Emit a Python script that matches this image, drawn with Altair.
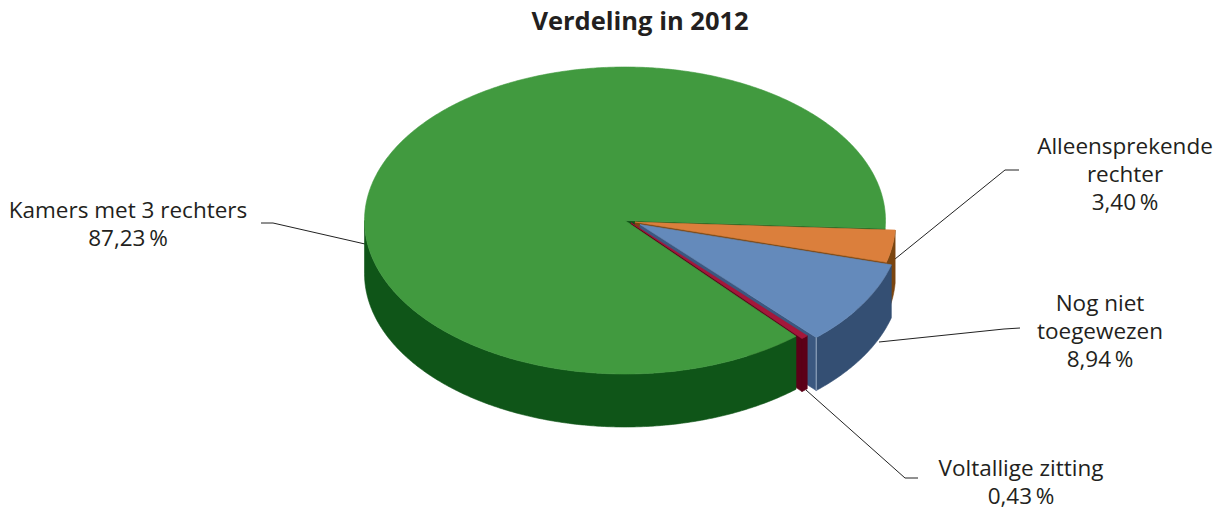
import math
import altair as alt
import pandas as pd

# Share of cases per composition, 2012 (percent)
categories = ["Alleensprekende rechter", "Nog niet toegewezen", "Voltallige zitting", "Kamers met 3 rechters"]
shares = [3.40, 8.94, 0.43, 87.23]

WIDTH, HEIGHT = 1223, 509
RX, RY, DEPTH = 260.5, 153.5, 53
START = 3.0  # degrees below the horizontal where the first slice begins

# Centre of each slice's top face (slices are pulled out slightly)
centres = {
    "Alleensprekende rechter": (635.0, 222.0),
    "Nog niet toegewezen": (640.0, 224.5),
    "Voltallige zitting": (631.0, 222.8),
    "Kamers met 3 rechters": (625.0, 220.5),
}
top_colours = {
    "Alleensprekende rechter": "#db7f3c",
    "Nog niet toegewezen": "#648abb",
    "Voltallige zitting": "#a5173a",
    "Kamers met 3 rechters": "#419a3f",
}
rim_colours = {
    "Alleensprekende rechter": "#7a4510",
    "Nog niet toegewezen": "#344f73",
    "Voltallige zitting": "#5c0018",
    "Kamers met 3 rechters": "#0f5518",
}
wall_colours = {
    "Alleensprekende rechter": "#7a4510",
    "Nog niet toegewezen": "#3b5880",
    "Voltallige zitting": "#5c0018",
    "Kamers met 3 rechters": "#0f5518",
}

x_scale = alt.Scale(domain=[0, WIDTH], range=[0, WIDTH], nice=False, zero=False)
y_scale = alt.Scale(domain=[0, HEIGHT], range=[0, HEIGHT], nice=False, zero=False)

# Angular extent of every slice, derived from its share
spans = {}
angle = START
for name, share in zip(categories, shares):
    spans[name] = (angle, angle + share * 3.6)
    angle += share * 3.6


def rim_point(name, t, drop=0.0):
    cx, cy = centres[name]
    r = math.radians(t)
    return (cx + RX * math.cos(r), cy + RY * math.sin(r) + drop)


def arc(name, t0, t1, drop=0.0):
    n = max(2, int(abs(t1 - t0) * 2))
    return [rim_point(name, t0 + (t1 - t0) * k / n, drop) for k in range(n + 1)]


def polygon(points, colour, stroke=None, width=0.6):
    frame = pd.DataFrame(points, columns=["x", "y"])
    frame["i"] = range(len(frame))
    return alt.Chart(frame).mark_line(
        fill=colour, stroke=stroke or colour, strokeWidth=width, interpolate="linear-closed"
    ).encode(
        x=alt.X("x:Q", scale=x_scale, axis=None),
        y=alt.Y("y:Q", scale=y_scale, axis=None),
        order="i:Q",
    )


def top_face(name):
    t0, t1 = spans[name]
    return polygon([centres[name]] + arc(name, t0, t1), top_colours[name])


def side_wall(name, t):
    cx, cy = centres[name]
    p = rim_point(name, t)
    return polygon([(cx, cy), p, (p[0], p[1] + DEPTH), (cx, cy + DEPTH)], wall_colours[name])


def rim_face(name, t0, t1):
    return polygon(arc(name, t0, t1) + arc(name, t1, t0, DEPTH), rim_colours[name])


orange, blue, red, green = categories

layers = [
    side_wall(green, spans[orange][0]),
    # Orange slice
    side_wall(orange, spans[orange][1]),
    rim_face(orange, *spans[orange]),
    top_face(orange),
    # Blue slice
    side_wall(blue, spans[blue][1]),
    rim_face(blue, *spans[blue]),
    top_face(blue),
    # Red slice
    side_wall(red, spans[red][1]),
    rim_face(red, *spans[red]),
    top_face(red),
    # Main slice: only the front half of its rim can be seen
    rim_face(green, spans[green][0], 180),
    top_face(green),
]

# Pale highlight on the front corner of the blue slice
corner = rim_point(blue, spans[blue][1])
layers.append(polygon([corner, (corner[0], corner[1] + DEPTH)], "#8fa3bd", "#8fa3bd", 0.8))

# Leader lines from labels to slices
leaders = [
    ("Kamers", [(261, 223), (273, 223), (365, 244)]),
    ("Alleen", [(1019, 170), (1005, 170), (895, 259)]),
    ("Nog", [(1020, 328), (1004, 329), (879, 342)]),
    ("Vol", [(918, 478), (905, 478), (806, 390)]),
]
rows = []
for key, pts in leaders:
    for i, (x, y) in enumerate(pts):
        rows.append({"key": key, "i": i, "x": x, "y": y})
layers.insert(0, alt.Chart(pd.DataFrame(rows)).mark_line(color="#222222", strokeWidth=1).encode(
    x=alt.X("x:Q", scale=x_scale, axis=None),
    y=alt.Y("y:Q", scale=y_scale, axis=None),
    order="i:Q",
    detail="key:N",
))


def pct(share):
    return f"{share:.2f}".replace(".", ",") + "\u2009%"


# One multi-line label per slice, placed at the first line's baseline
label_rows = [
    (f"Kamers met 3 rechters\n{pct(shares[3])}", 128, 218),
    (f"Alleensprekende\nrechter\n{pct(shares[0])}", 1125, 154),
    (f"Nog niet\ntoegewezen\n{pct(shares[1])}", 1100, 311),
    (f"Voltallige zitting\n{pct(shares[2])}", 1021, 476),
]
labels = pd.DataFrame(label_rows, columns=["text", "x", "y"])
layers.append(alt.Chart(labels).mark_text(
    font="Open Sans", fontSize=22.5, color="#231f20", align="center", baseline="alphabetic",
    lineBreak="\n", lineHeight=28,
).encode(
    x=alt.X("x:Q", scale=x_scale, axis=None),
    y=alt.Y("y:Q", scale=y_scale, axis=None),
    text="text:N",
))

title = pd.DataFrame({"text": ["Verdeling in 2012"], "x": [640], "y": [22]})
layers.append(alt.Chart(title).mark_text(
    font="Open Sans", fontSize=25.5, fontWeight="bold", color="#231f20", align="center", baseline="middle"
).encode(
    x=alt.X("x:Q", scale=x_scale, axis=None),
    y=alt.Y("y:Q", scale=y_scale, axis=None),
    text="text:N",
))

chart = alt.layer(*layers).properties(
    width=WIDTH, height=HEIGHT, padding=0, autosize=alt.AutoSizeParams(type="none"),
    background="white",
).configure_view(stroke=None)

chart.save("out.html", embed_options={"renderer": "svg", "actions": False})
